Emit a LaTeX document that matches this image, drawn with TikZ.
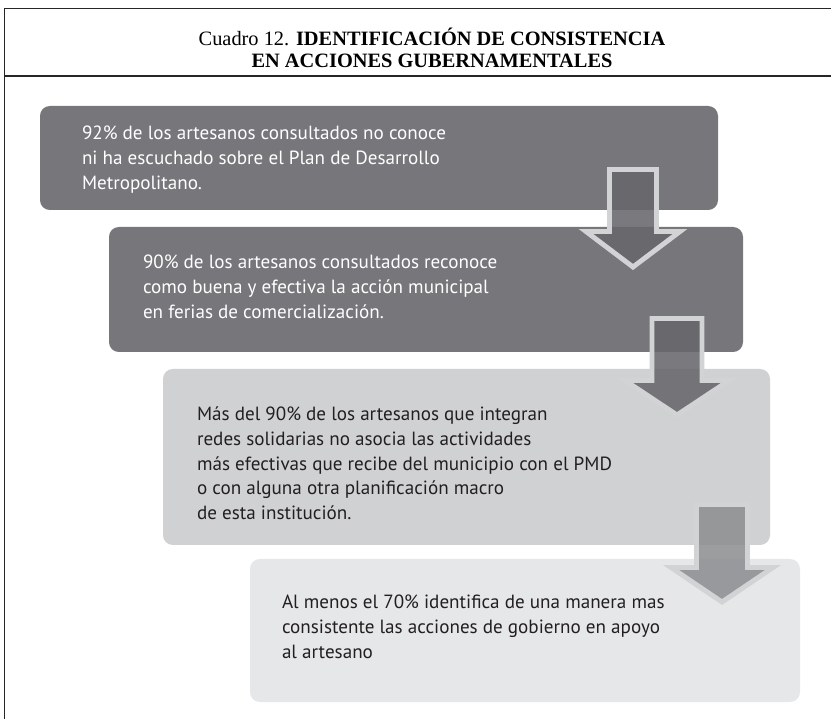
\documentclass[tikz,border=0pt]{standalone}
\usepackage{fontspec}
\setmainfont{Liberation Serif}
\newfontfamily\boxfont{PT Sans}
\usepackage{xcolor}
\definecolor{darkgray}{RGB}{119,119,123}
\definecolor{midgray}{RGB}{208,209,211}
\definecolor{lightgray}{RGB}{230,231,232}
\definecolor{edgegray}{RGB}{210,211,213}
\definecolor{arrowdark}{RGB}{104,104,108}
\definecolor{arrowmid}{RGB}{142,143,146}
\definecolor{inkblack}{RGB}{35,31,32}
\usepackage{tikz}
\usetikzlibrary{positioning}

\begin{document}
\begin{tikzpicture}[
  frame/.style={line width=1.4pt, color=black!85},
  title/.style={font=\fontsize{14.5}{15.5}\selectfont, align=center, text=black},
  stepbox/.style={fill=#1, rounded corners=7pt, inner sep=0pt},
  boxtext/.style={font=\boxfont\fontsize{13.6}{17.6}\selectfont, align=left, inner sep=0pt, text=#1},
  downarrow/.style={draw=edgegray, line width=3.5pt, miter limit=10, fill=#1, fill opacity=0.88},
]
  \useasboundingbox (0,0) rectangle (20.775,17.975);

  % Frame and heading
  \draw[frame] (20.775,17.7625) -- (0.1125,17.7625) -- (0.1125,0);
  \draw[frame, line width=1.1pt] (0.1125,16.075) -- (20.775,16.075);
  \node[title] (head) at (10.8,16.775) {Cuadro 12. \textbf{IDENTIFICACIÓN DE CONSISTENCIA}\\\textbf{EN ACCIONES GUBERNAMENTALES}};

  % Four steps
  \node[stepbox=darkgray, minimum width=16.95cm, minimum height=2.6cm] (b1) at (9.475,14.025) {};
  \node[stepbox=darkgray, minimum width=15.85cm, minimum height=3.125cm] (b2) at (10.65,10.7375) {};
  \node[stepbox=midgray, minimum width=15.175cm, minimum height=4.4cm] (b3) at (11.6625,6.55) {};
  \node[stepbox=lightgray, minimum width=13.75cm, minimum height=3.575cm] (b4) at (13.125,2.2125) {};

  \node[boxtext=white, below right=0.5cm and 1.05cm of b1.north west] (t1) {92\% de los artesanos consultados no conoce\\ni ha escuchado sobre el Plan de Desarrollo\\Metropolitano.};
  \node[boxtext=white, below right=0.7cm and 0.85cm of b2.north west] (t2) {90\% de los artesanos consultados reconoce\\como buena y efectiva la acción municipal\\en ferias de comercialización.};
  \node[boxtext=inkblack, below right=0.95cm and 0.85cm of b3.north west] (t3) {Más del 90\% de los artesanos que integran\\redes solidarias no asocia las actividades\\más efectivas que recibe del municipio con el PMD\\o con alguna otra planificación macro\\de esta institución.};
  \node[boxtext=inkblack, below right=0.9cm and 0.8cm of b4.north west] (t4) {Al menos el 70\% identifica de una manera mas\\consistente las acciones de gobierno en apoyo\\al artesano};

  % Block arrows between the steps
  \draw[downarrow=arrowdark] (15.2375,13.7375) -- (16.4125,13.7375) -- (16.4125,12.1875) -- (17.0,12.1875)
    -- (15.825,11.3) -- (14.65,12.1875) -- (15.2375,12.1875) -- cycle;
  \draw[downarrow=arrowdark] (16.3,10.0125) -- (17.55,10.0125) -- (17.55,8.4625) -- (18.225,8.4625)
    -- (16.925,7.6) -- (15.625,8.4625) -- (16.3,8.4625) -- cycle;
  \draw[downarrow=arrowmid] (17.4125,5.3625) -- (18.6875,5.3625) -- (18.6875,3.7875) -- (19.325,3.7875)
    -- (18.05,2.925) -- (16.775,3.7875) -- (17.4125,3.7875) -- cycle;
\end{tikzpicture}
\end{document}
